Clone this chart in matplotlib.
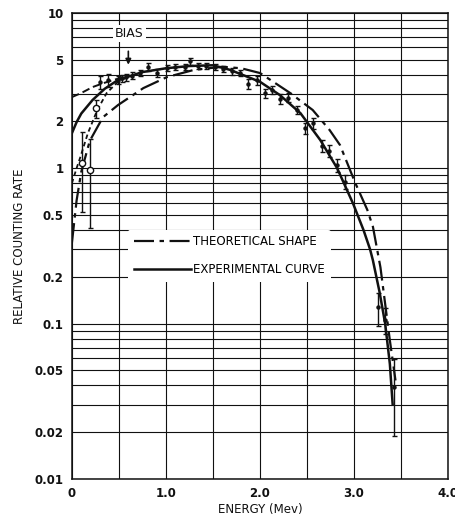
import numpy as np
import matplotlib
matplotlib.use("Agg")
import matplotlib.pyplot as plt

# experimental curve (solid)
exp_x = [0.0, 0.05, 0.1, 0.22, 0.35, 0.49, 0.75, 1.0, 1.25, 1.5, 1.68, 2.0, 2.21, 2.43,
         2.64, 2.82, 2.99, 3.10, 3.17, 3.20, 3.27, 3.33, 3.38, 3.41]
exp_y = [1.68, 1.98, 2.25, 2.75, 3.25, 3.70, 4.16, 4.4, 4.55, 4.6, 4.3, 3.6, 2.96, 2.26,
         1.52, 1.0, 0.59, 0.40, 0.30, 0.255, 0.16, 0.10, 0.055, 0.03]

# theoretical shape (dash-dot)
th_x = [0.0, 0.05, 0.1, 0.19, 0.33, 0.49, 0.76, 1.01, 1.3, 1.6, 1.8, 2.0, 2.32, 2.56,
        2.74, 2.85, 3.01, 3.14, 3.2, 3.28, 3.38, 3.44]
th_y = [0.33, 0.62, 0.95, 1.5, 2.13, 2.55, 3.28, 3.86, 4.3, 4.5, 4.4, 4.1, 3.05, 2.37,
        1.76, 1.41, 0.81, 0.54, 0.42, 0.23, 0.078, 0.043]

# low energy dashed branches
da_x = [0.0, 0.1, 0.22, 0.33, 0.44, 0.55]
da_y = [2.87, 3.05, 3.33, 3.52, 3.7, 3.85]
db_x = [0.0, 0.05, 0.09, 0.17, 0.27, 0.37, 0.49, 0.6]
db_y = [0.8, 1.0, 1.18, 1.68, 2.37, 3.05, 3.6, 3.9]

# measured points with error bars
pt_x = [0.30, 0.38, 0.49, 0.53, 0.57, 0.64, 0.72, 0.81, 0.90, 1.01, 1.10, 1.20, 1.26,
        1.34, 1.43, 1.52, 1.61, 1.70, 1.79, 1.87, 1.97, 2.05, 2.13, 2.21, 2.30, 2.39,
        2.48, 2.56, 2.66, 2.73, 2.82, 2.90, 3.25, 3.33, 3.42]
pt_y = [3.6, 3.7, 3.7, 3.8, 3.85, 3.95, 4.1, 4.5, 4.1, 4.4, 4.5, 4.5, 4.9,
        4.55, 4.55, 4.5, 4.35, 4.2, 4.1, 3.5, 3.7, 3.05, 3.2, 2.8, 2.85, 2.37,
        1.81, 1.95, 1.4, 1.3, 1.05, 0.82, 0.127, 0.105, 0.039]
pt_err = [0.35, 0.35, 0.2, 0.2, 0.2, 0.2, 0.2, 0.25, 0.25, 0.2, 0.2, 0.2, 0.25,
          0.2, 0.2, 0.2, 0.2, 0.2, 0.2, 0.25, 0.25, 0.2, 0.2, 0.2, 0.2, 0.15,
          0.15, 0.15, 0.12, 0.12, 0.1, 0.08, 0.03, 0.02, 0.02]

# open circles
oc_x = [0.11, 0.19, 0.26]
oc_y = [1.08, 0.97, 2.44]
oc_lo = [0.52, 0.41, 2.1]
oc_hi = [1.71, 1.55, 2.75]

y_ticks = [0.01, 0.02, 0.05, 0.1, 0.2, 0.5, 1, 2, 5, 10]
y_labels = ["0.01", "0.02", "0.05", "0.1", "0.2", "0.5", "1", "2", "5", "10"]
x_ticks = [0, 1, 2, 3, 4]
x_labels = ["0", "1.0", "2.0", "3.0", "4.0"]

ink = "#111111"
fig = plt.figure(figsize=(4.55, 5.16), dpi=100)
ax = fig.add_axes([0.158, 0.072, 0.827, 0.903])
ax.set_yscale("log")
ax.set_xlim(0, 4)
ax.set_ylim(0.01, 10)

ax.set_yticks(y_ticks)
ax.set_yticklabels(y_labels)
minor = [m * 10.0 ** e for e in (-2, -1, 0) for m in range(2, 10)]
ax.set_yticks(minor, minor=True)
ax.yaxis.set_minor_formatter(matplotlib.ticker.NullFormatter())
ax.set_xticks(x_ticks)
ax.set_xticklabels(x_labels)
ax.set_xticks([0.5, 1.5, 2.5, 3.5], minor=True)
ax.tick_params(which="both", length=0, labelsize=8.5, colors=ink)
ax.tick_params(axis="y", pad=6)
ax.tick_params(axis="x", pad=6)
for lab in ax.get_xticklabels() + ax.get_yticklabels():
    lab.set_fontweight("bold")
ax.grid(True, which="both", color=ink, linewidth=0.8)
for s in ax.spines.values():
    s.set_color(ink)
    s.set_linewidth(1.1)

ax.plot(exp_x, exp_y, color=ink, lw=1.8, label="EXPERIMENTAL CURVE", zorder=4)
ax.plot(th_x, th_y, color=ink, lw=1.6, dashes=(9, 2.5, 2, 2.5),
        label="THEORETICAL SHAPE", zorder=4)
ax.plot(da_x, da_y, color=ink, lw=1.4, dashes=(4, 2), zorder=4)
ax.plot(db_x, db_y, color=ink, lw=1.3, dashes=(2.5, 1.8), zorder=4)

ax.errorbar(pt_x, pt_y, yerr=pt_err, fmt="o", ms=2.2, color=ink, ecolor=ink,
            elinewidth=1.0, capsize=1.8, capthick=1.0, zorder=5)
oc_err = [np.array(oc_y) - np.array(oc_lo), np.array(oc_hi) - np.array(oc_y)]
ax.errorbar(oc_x, oc_y, yerr=oc_err, fmt="o", ms=4.5, mfc="white", mec=ink, mew=1.0,
            ecolor=ink, elinewidth=1.0, capsize=1.8, zorder=5)

ax.text(0.61, 7.4, "BIAS", ha="center", va="center", fontsize=9, color=ink,
        bbox=dict(facecolor="white", edgecolor="none", pad=1.5), zorder=6)
ax.annotate("", xy=(0.6, 4.45), xytext=(0.6, 5.9),
            arrowprops=dict(arrowstyle="-|>", color=ink, lw=1.2, mutation_scale=8),
            zorder=6)

h, l = ax.get_legend_handles_labels()
leg = ax.legend(h[::-1], l[::-1], loc="upper left", bbox_to_anchor=(0.149, 0.535),
                frameon=True, fontsize=8.5, handlelength=4.8, handletextpad=0.2,
                labelspacing=1.2, borderpad=0.5, borderaxespad=0)
leg.get_frame().set_facecolor("white")
leg.get_frame().set_edgecolor("none")
leg.get_frame().set_alpha(1)
leg.set_zorder(6)

ax.set_xlabel("ENERGY (Mev)", fontsize=8.5, color=ink, labelpad=2)
ax.set_ylabel("RELATIVE COUNTING RATE", fontsize=8.5, color=ink, labelpad=6)

fig.savefig("out.png", dpi=100)
